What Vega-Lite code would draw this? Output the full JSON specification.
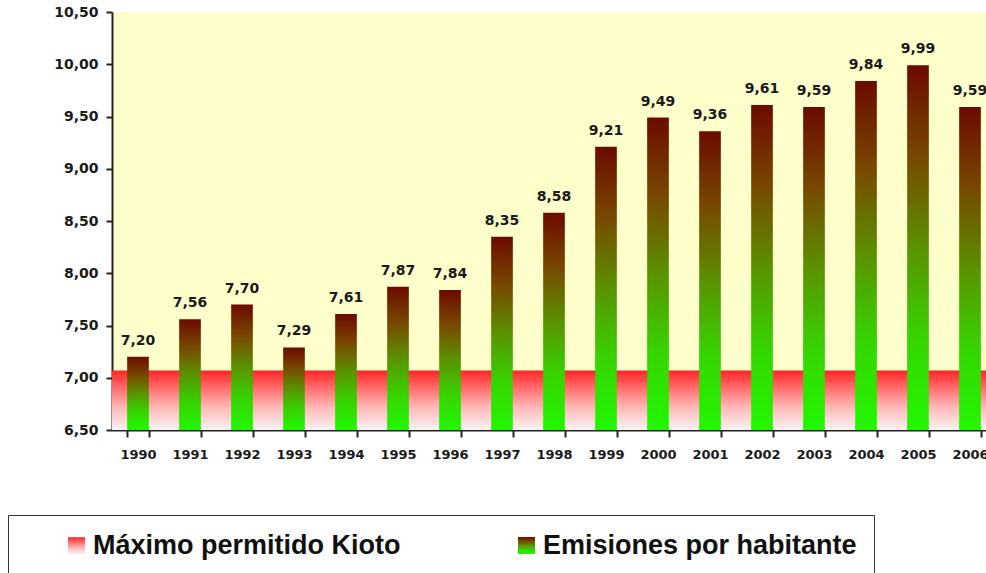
{
  "$schema": "https://vega.github.io/schema/vega-lite/v6.json",
  "autosize": {"type": "none"},
  "width": 874,
  "height": 418,
  "padding": {"left": 112, "top": 12, "right": 0, "bottom": 143},
  "background": "#ffffff",
  "datasets": {
    "emisiones": [
      {"anio": "1990", "valor": 7.20, "serie": "Emisiones por habitante"},
      {"anio": "1991", "valor": 7.56, "serie": "Emisiones por habitante"},
      {"anio": "1992", "valor": 7.70, "serie": "Emisiones por habitante"},
      {"anio": "1993", "valor": 7.29, "serie": "Emisiones por habitante"},
      {"anio": "1994", "valor": 7.61, "serie": "Emisiones por habitante"},
      {"anio": "1995", "valor": 7.87, "serie": "Emisiones por habitante"},
      {"anio": "1996", "valor": 7.84, "serie": "Emisiones por habitante"},
      {"anio": "1997", "valor": 8.35, "serie": "Emisiones por habitante"},
      {"anio": "1998", "valor": 8.58, "serie": "Emisiones por habitante"},
      {"anio": "1999", "valor": 9.21, "serie": "Emisiones por habitante"},
      {"anio": "2000", "valor": 9.49, "serie": "Emisiones por habitante"},
      {"anio": "2001", "valor": 9.36, "serie": "Emisiones por habitante"},
      {"anio": "2002", "valor": 9.61, "serie": "Emisiones por habitante"},
      {"anio": "2003", "valor": 9.59, "serie": "Emisiones por habitante"},
      {"anio": "2004", "valor": 9.84, "serie": "Emisiones por habitante"},
      {"anio": "2005", "valor": 9.99, "serie": "Emisiones por habitante"},
      {"anio": "2006", "valor": 9.59, "serie": "Emisiones por habitante"}
    ],
    "kioto": [
      {"serie": "Máximo permitido Kioto", "maximo": 7.07}
    ]
  },
  "encoding": {
    "y": {
      "type": "quantitative",
      "scale": {"domain": [6.5, 10.5], "zero": false, "nice": false},
      "axis": {
        "title": null,
        "values": [6.5, 7, 7.5, 8, 8.5, 9, 9.5, 10, 10.5],
        "format": ".2f",
        "tickSize": 6,
        "labelPadding": 8,
        "labelFontSize": 14
      }
    }
  },
  "resolve": {"scale": {"opacity": "independent"}, "legend": {"opacity": "independent"}},
  "layer": [
    {
      "data": {"name": "kioto"},
      "mark": {
        "type": "rect",
        "fill": {
          "gradient": "linear", "x1": 0, "y1": 0, "x2": 0, "y2": 1,
          "stops": [
            {"offset": 0, "color": "#ff2424"},
            {"offset": 0.15, "color": "#ff4a4a"},
            {"offset": 0.6, "color": "#ffb4b4"},
            {"offset": 1, "color": "#f8f4f4"}
          ]
        }
      },
      "encoding": {
        "y": {"field": "maximo", "type": "quantitative"},
        "y2": {"datum": 6.5},
        "opacity": {
          "field": "serie", "type": "nominal",
          "scale": {"domain": ["Máximo permitido Kioto", "Emisiones por habitante"], "range": [1, 1]},
          "legend": {
            "orient": "none",
            "legendX": -104,
            "legendY": 503,
            "direction": "horizontal",
            "title": null,
            "padding": 17,
            "symbolOffset": 38,
            "symbolType": "square",
            "symbolSize": 289,
            "symbolStrokeWidth": 0,
            "symbolOpacity": 1,
            "labelFont": "Liberation Sans",
            "labelFontSize": 27,
            "labelFontWeight": "bold",
            "labelColor": "#111111",
            "labelOffset": 3,
            "labelLimit": 800,
            "columnPadding": 74,
            "fillColor": "#ffffff",
            "strokeColor": "#333333",
            "cornerRadius": 0
          }
        }
      }
    },
    {
      "data": {"name": "emisiones"},
      "mark": {
        "type": "bar",
        "fill": {
          "gradient": "linear", "x1": 0, "y1": 0, "x2": 0, "y2": 1,
          "stops": [
            {"offset": 0, "color": "#6c0a00"},
            {"offset": 0.25, "color": "#784800"},
            {"offset": 0.5, "color": "#5a9200"},
            {"offset": 0.75, "color": "#36d400"},
            {"offset": 1, "color": "#22f800"}
          ]
        }
      },
      "encoding": {
        "x": {
          "field": "anio", "type": "ordinal",
          "scale": {"range": [0, 884], "paddingInner": 0.583, "paddingOuter": 0.2915},
          "axis": {
            "title": null,
            "tickBand": "extent",
            "tickSize": 7,
            "labelPadding": 11,
            "labelFontSize": 13,
            "labelAngle": 0
          }
        },
        "y": {"field": "valor", "type": "quantitative"},
        "y2": {"datum": 6.5},
        "opacity": {
          "field": "serie", "type": "nominal",
          "scale": {"domain": ["Emisiones por habitante"], "range": [1, 1]},
          "legend": {
            "orient": "none",
            "legendX": 346,
            "legendY": 512,
            "direction": "horizontal",
            "title": null,
            "padding": 8,
            "symbolOffset": 47,
            "symbolType": "square",
            "symbolSize": 289,
            "symbolStrokeWidth": 0,
            "symbolOpacity": 1,
            "labelFont": "Liberation Sans",
            "labelFontSize": 27,
            "labelFontWeight": "bold",
            "labelColor": "#111111",
            "labelOffset": 3,
            "labelLimit": 800,
            "fillColor": "#ffffff",
            "cornerRadius": 0
          }
        }
      }
    },
    {
      "data": {"name": "emisiones"},
      "mark": {
        "type": "text",
        "baseline": "alphabetic",
        "align": "center",
        "dy": -12,
        "font": "DejaVu Sans",
        "fontWeight": "bold",
        "fontSize": 14,
        "color": "#1a1a1a"
      },
      "encoding": {
        "x": {"field": "anio", "type": "ordinal"},
        "y": {"field": "valor", "type": "quantitative"},
        "text": {"field": "valor", "type": "quantitative", "format": ".2f"}
      }
    }
  ],
  "config": {
    "locale": {
      "number": {"decimal": ",", "thousands": ".", "grouping": [3], "currency": ["", " €"]}
    },
    "view": {"fill": "#FFFFCC", "stroke": null},
    "axis": {
      "grid": false,
      "domainColor": "#222222",
      "domainWidth": 2,
      "tickColor": "#222222",
      "tickWidth": 2,
      "labelFont": "DejaVu Sans",
      "labelFontWeight": "bold",
      "labelColor": "#1a1a1a"
    }
  }
}
